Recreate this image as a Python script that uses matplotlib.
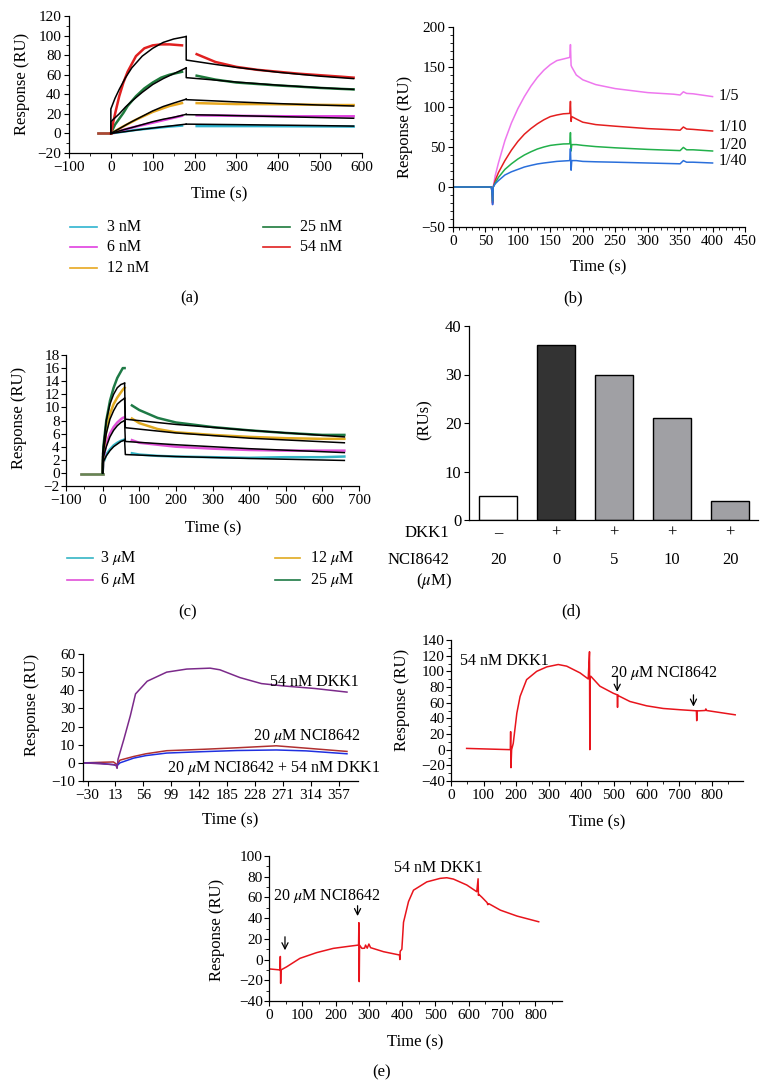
import matplotlib
matplotlib.use('Agg')
import matplotlib.pyplot as plt
from matplotlib.ticker import AutoMinorLocator, MultipleLocator
from matplotlib.lines import Line2D

plt.rcParams['font.family'] = ['Liberation Serif', 'DejaVu Serif']
plt.rcParams['mathtext.fontset'] = 'stix'
plt.rcParams['font.size'] = 11
plt.rcParams['axes.unicode_minus'] = True

TICK_FS = 11
LABEL_FS = 12
TEXT_FS = 11.5

# ---------------- Panel (a) data ----------------
a_labels = ['3 nM', '6 nM', '12 nM', '25 nM', '54 nM']
a_colors = ['#2fb4cf', '#e040e0', '#e8a820', '#1e7a3c', '#e02020']
a_base_t = [-30, 0]
a_base_y = [0, 0]
a_assoc_t = [0, 10, 20, 30, 40, 60, 80, 100, 120, 140, 170]
a_assoc_3 = [0, 0.6, 1.2, 1.8, 2.4, 3.6, 4.5, 5.3, 6.2, 7.0, 8.0]
a_assoc_6 = [0, 1.2, 2.4, 3.6, 4.8, 7.0, 9.0, 11.0, 13.0, 15.0, 18.0]
a_assoc_12 = [0, 2.4, 4.8, 7.2, 9.5, 14.0, 18.0, 22.0, 25.0, 28.0, 31.0]
a_assoc_25 = [0, 9.0, 15.0, 21.0, 28.0, 38.0, 46.0, 52.0, 57.0, 60.0, 63.0]
a_assoc_54 = [0, 20.0, 38.0, 52.0, 63.0, 79.0, 87.0, 90.0, 91.0, 91.0, 90.0]
a_diss_t = [205, 250, 300, 350, 400, 450, 500, 550, 580]
a_diss_3 = [7.5, 7.5, 7.5, 7.5, 7.4, 7.3, 7.2, 7.1, 7.0]
a_diss_6 = [18.5, 18.3, 18.0, 17.8, 17.6, 17.5, 17.5, 17.5, 17.5]
a_diss_12 = [31.0, 30.5, 30.0, 30.0, 29.8, 29.5, 29.2, 29.0, 29.0]
a_diss_25 = [59.0, 55.0, 52.0, 50.5, 49.0, 47.8, 46.5, 45.5, 45.0]
a_diss_54 = [81.0, 73.0, 68.0, 65.0, 63.0, 61.0, 59.5, 58.0, 57.0]
a_fit_assoc_t = [0, 0, 10, 20, 35, 50, 75, 100, 125, 150, 180]
a_fit_assoc_3 = [0, 0, 0.5, 1.1, 1.9, 2.8, 4.2, 5.5, 6.8, 8.0, 9.5]
a_fit_assoc_6 = [0, 0, 1.2, 2.5, 4.3, 6.0, 9.0, 12.0, 14.5, 16.5, 19.5]
a_fit_assoc_12 = [0, 0, 2.4, 4.8, 8.5, 12.0, 17.5, 23.0, 27.5, 31.0, 35.0]
a_fit_assoc_25 = [0, 12, 16, 20, 27, 33, 42, 50, 56, 61, 67]
a_fit_assoc_54 = [0, 25, 36, 45, 57, 67, 79, 87, 93, 96.5, 99]
a_fit_diss_t = [180, 180, 250, 300, 400, 500, 580]
a_fit_diss_3 = [9.5, 9.5, 9.2, 9.0, 8.5, 8.0, 7.5]
a_fit_diss_6 = [19.5, 19.2, 18.7, 18.2, 17.2, 16.2, 15.5]
a_fit_diss_12 = [35.0, 34.5, 33.2, 32.2, 30.5, 29.0, 28.0]
a_fit_diss_25 = [67.0, 57.0, 54.5, 52.5, 49.3, 46.7, 45.0]
a_fit_diss_54 = [99.0, 75.0, 70.5, 67.5, 62.5, 58.5, 56.0]

# ---------------- Panel (b) data ----------------
b_labels = ['1/5', '1/10', '1/20', '1/40']
b_colors = ['#ee77ee', '#e41f1f', '#22b04b', '#2a6fdb']
b_t = [0, 59, 60, 61, 62, 65, 70, 80, 90, 100, 110, 120, 130, 140, 150, 160, 170, 180,
       181, 182, 183, 190, 200, 220, 250, 300, 340, 350, 355, 360, 370, 400]
b_1_5 = [0, 0, -5, -22, 0, 14, 30, 58, 80, 98, 113, 126, 137, 146, 153, 158, 160, 162,
         178, 152, 150, 140, 134, 128, 123, 118, 116, 115, 119, 117, 116.5, 113]
b_1_10 = [0, 0, -5, -20, 0, 8, 18, 33, 46, 57, 66, 73, 79, 84, 88, 90, 91.5, 92,
          107, 82, 88, 85, 81, 78, 76, 73, 71.5, 71, 75, 72.5, 72, 70]
b_1_20 = [0, 0, -5, -18, 0, 5, 12, 22, 29, 35, 40, 44, 47.5, 50, 52, 53, 53.8, 54,
          68, 45, 53, 53, 52, 50.5, 49, 47, 45.8, 45.5, 49.5, 46.5, 46.5, 45]
b_1_40 = [0, 0, -5, -22, 0, 4, 8, 15, 19, 22, 25, 27, 28.8, 30, 31, 32, 32.5, 33,
          48, 21, 33, 33, 32, 31.5, 31, 30, 29.2, 29, 33, 31, 31, 30]

# ---------------- Panel (c) data ----------------
c_labels = ['3 $\\mu$M', '6 $\\mu$M', '12 $\\mu$M', '25 $\\mu$M']
c_colors = ['#35b5c5', '#e050d8', '#e0aa20', '#1e7a46']
c_base_t = [-60, 0]
c_base_y = [-0.1, -0.1]
c_assoc_t = [0, 2, 10, 20, 30, 40, 50, 55, 60]
c_assoc_3 = [0, 1.5, 2.8, 3.6, 4.2, 4.6, 4.9, 5.0, 5.1]
c_assoc_6 = [0, 2.0, 4.5, 6.0, 7.0, 7.7, 8.2, 8.4, 8.5]
c_assoc_12 = [0, 3.0, 6.5, 9.0, 10.5, 11.5, 12.3, 12.7, 13.0]
c_assoc_25 = [0, 4.0, 8.0, 11.0, 13.0, 14.5, 15.5, 16.0, 16.0]
c_diss_t = [80, 100, 150, 200, 300, 400, 500, 600, 660]
c_diss_3 = [3.0, 2.8, 2.6, 2.5, 2.4, 2.3, 2.4, 2.4, 2.5]
c_diss_6 = [5.0, 4.6, 4.3, 4.0, 3.7, 3.5, 3.4, 3.4, 3.4]
c_diss_12 = [8.3, 7.6, 6.7, 6.2, 5.8, 5.5, 5.3, 5.2, 5.2]
c_diss_25 = [10.3, 9.6, 8.4, 7.7, 7.0, 6.5, 6.1, 5.8, 5.8]
c_fit_assoc_t = [0, 0, 10, 20, 30, 40, 50, 60]
c_fit_assoc_3 = [0, 1.5, 2.6, 3.4, 4.0, 4.4, 4.8, 5.0]
c_fit_assoc_6 = [0, 2.0, 4.0, 5.5, 6.5, 7.2, 7.7, 8.0]
c_fit_assoc_12 = [0, 2.5, 6.0, 8.2, 9.5, 10.5, 11.0, 11.4]
c_fit_assoc_25 = [0, 3.0, 8.0, 10.5, 12.0, 13.0, 13.5, 13.7]
c_fit_diss_t = [60, 62, 200, 400, 660]
c_fit_diss_3 = [5.0, 2.8, 2.5, 2.2, 1.9]
c_fit_diss_6 = [8.0, 4.8, 4.3, 3.7, 3.1]
c_fit_diss_12 = [11.4, 6.9, 6.1, 5.3, 4.6]
c_fit_diss_25 = [13.7, 8.2, 7.4, 6.5, 5.5]

# ---------------- Panel (d) data ----------------
d_values = [5, 36, 30, 21, 4]
d_colors = ['#ffffff', '#333333', '#a0a0a4', '#a0a0a4', '#a0a0a4']
d_dkk1 = ['–', '+', '+', '+', '+']
d_nci = ['20', '0', '5', '10', '20']

# ---------------- Panel (e) data ----------------
e1_xticks = [-30, 13, 56, 99, 142, 185, 228, 271, 314, 357]
e1_purple_t = [-36, -10, 10, 14, 15.6, 17, 26, 36, 44, 62, 92, 123, 159, 174, 205, 238, 272, 320, 370]
e1_purple_y = [0, -0.5, -1, -1.5, -3, 2, 13, 26, 38, 45, 50, 51.7, 52.2, 51.3, 47, 43.7, 42.4, 41, 39]
e1_line_t = [-36, -10, 10, 15.6, 20, 41, 60, 92, 150, 200, 261, 307, 370]
e1_red_y = [0, 0.3, 0.5, -1, 1.5, 3.5, 5, 6.7, 7.5, 8.3, 9.4, 8.1, 6.3]
e1_blue_y = [0, -0.3, -1, -1.5, 0, 2.6, 4, 5.4, 6.2, 6.8, 7.1, 6.6, 5]

e2_t = [48, 182, 183, 184, 186, 191, 202, 212, 232, 263, 294, 329, 355, 396, 421, 425, 426, 427,
        429, 457, 498, 510, 511, 512, 513, 549, 600, 651, 702, 753, 754, 755, 756, 780, 782, 784, 872]
e2_y = [1.6, 0, 23, -23, 0, 8, 46.6, 68, 89.4, 100, 105.7, 108.7, 106.6, 98, 90.3, 125, 0, 92,
        93.7, 81, 72, 70, 54, 70, 69, 61.5, 56, 52.6, 51, 49.6, 37, 49.6, 49.5, 50, 52, 50, 44.5]

e3_t = [0, 33, 34, 35, 36, 53, 93, 143, 193, 244, 269, 270, 271, 272, 279, 287, 290, 295, 300, 305,
        344, 392, 393, 394, 399, 404, 419, 434, 474, 514, 534, 554, 594, 624, 628, 629, 630, 640,
        655, 657, 660, 695, 745, 810]
e3_y = [-9, -10, 3, -23, -10, -7, 1.2, 6.7, 10.8, 13, 14, 35.6, -21.3, 14, 10.8, 11, 14, 11, 15, 11.5,
        7.6, 4.4, 0, 8, 10, 36, 56, 67, 75, 78.4, 79, 77.7, 72, 65.5, 78, 62, 63, 60,
        55, 53, 54, 47.7, 42, 36.5]

# ---------------- figure helpers ----------------
W, H = 769, 1089
fig = plt.figure(figsize=(W / 100, H / 100), dpi=100)


def pax(l, t, r, b):
    return fig.add_axes([l / W, 1 - b / H, (r - l) / W, (b - t) / H])


def fx(x):
    return x / W


def fy(y):
    return 1 - y / H


def style(ax, xminor=2, yminor=2, fs=TICK_FS):
    for s in ['top', 'right']:
        ax.spines[s].set_visible(False)
    for s in ['left', 'bottom']:
        ax.spines[s].set_linewidth(0.9)
    ax.tick_params(which='major', direction='out', length=3.5, width=0.8, labelsize=fs, pad=2)
    ax.tick_params(which='minor', direction='out', length=2, width=0.6)
    if xminor:
        ax.xaxis.set_minor_locator(AutoMinorLocator(xminor))
    if yminor:
        ax.yaxis.set_minor_locator(AutoMinorLocator(yminor))


def ftext(x, y, s, **kw):
    kw.setdefault('fontsize', LABEL_FS)
    kw.setdefault('ha', 'center')
    kw.setdefault('va', 'center')
    fig.text(fx(x), fy(y), s, **kw)


def legend_item(x0, x1, y, color, label, tx):
    fig.add_artist(Line2D([fx(x0), fx(x1)], [fy(y), fy(y)], color=color, lw=1.2))
    ftext(tx, y, label, ha='left', fontsize=TEXT_FS)


# ---------------- Panel (a) ----------------
ax = pax(69, 16, 362, 153)
a_assoc = [a_assoc_3, a_assoc_6, a_assoc_12, a_assoc_25, a_assoc_54]
a_diss = [a_diss_3, a_diss_6, a_diss_12, a_diss_25, a_diss_54]
a_fa = [a_fit_assoc_3, a_fit_assoc_6, a_fit_assoc_12, a_fit_assoc_25, a_fit_assoc_54]
a_fd = [a_fit_diss_3, a_fit_diss_6, a_fit_diss_12, a_fit_diss_25, a_fit_diss_54]
for c, ya, yd in zip(a_colors, a_assoc, a_diss):
    ax.plot(a_base_t, a_base_y, color=c, lw=1.8, alpha=0.6)
    ax.plot(a_assoc_t, ya, color=c, lw=1.8)
    ax.plot(a_diss_t, yd, color=c, lw=1.8)
for ya, yd in zip(a_fa, a_fd):
    ax.plot(a_fit_assoc_t, ya, color='black', lw=1.1)
    ax.plot(a_fit_diss_t, yd, color='black', lw=1.1)
ax.set_xlim(-100, 600)
ax.set_ylim(-20, 120)
ax.xaxis.set_major_locator(MultipleLocator(100))
ax.yaxis.set_major_locator(MultipleLocator(20))
style(ax)
ftext(22, 84, 'Response (RU)', rotation=90)
ftext(219, 194, 'Time (s)')
legend_item(70, 97, 227, a_colors[0], a_labels[0], 107)
legend_item(70, 97, 247, a_colors[1], a_labels[1], 107)
legend_item(70, 97, 268, a_colors[2], a_labels[2], 107)
legend_item(263, 290, 227, a_colors[3], a_labels[3], 300)
legend_item(263, 290, 247, a_colors[4], a_labels[4], 300)
ftext(190, 298, '(a)')

# ---------------- Panel (b) ----------------
ax = pax(453, 27, 745, 227)
b_series = [b_1_5, b_1_10, b_1_20, b_1_40]
b_label_y = [113.75, 75, 52.5, 32.5]
for c, ys, lab, ly in zip(b_colors, b_series, b_labels, b_label_y):
    ax.plot(b_t, ys, color=c, lw=1.1)
    ax.text(410, ly, lab, ha='left', va='center', fontsize=TEXT_FS, clip_on=False)
ax.set_xlim(0, 450)
ax.set_ylim(-50, 200)
ax.xaxis.set_major_locator(MultipleLocator(50))
ax.yaxis.set_major_locator(MultipleLocator(50))
style(ax, 5, 5)
ftext(405, 127, 'Response (RU)', rotation=90)
ftext(598, 267, 'Time (s)')
ftext(573, 298, '(b)')

# ---------------- Panel (c) ----------------
ax = pax(66, 355, 359, 486)
c_assoc = [c_assoc_3, c_assoc_6, c_assoc_12, c_assoc_25]
c_diss = [c_diss_3, c_diss_6, c_diss_12, c_diss_25]
c_fa = [c_fit_assoc_3, c_fit_assoc_6, c_fit_assoc_12, c_fit_assoc_25]
c_fd = [c_fit_diss_3, c_fit_diss_6, c_fit_diss_12, c_fit_diss_25]
for c, ya, yd in zip(c_colors, c_assoc, c_diss):
    ax.plot(c_base_t, c_base_y, color=c, lw=1.8, alpha=0.6)
    ax.plot(c_assoc_t, ya, color=c, lw=1.8)
    ax.plot(c_diss_t, yd, color=c, lw=1.8)
for ya, yd in zip(c_fa, c_fd):
    ax.plot(c_fit_assoc_t, ya, color='black', lw=1.1)
    ax.plot(c_fit_diss_t, yd, color='black', lw=1.1)
ax.set_xlim(-100, 700)
ax.set_ylim(-2, 18)
ax.xaxis.set_major_locator(MultipleLocator(100))
ax.yaxis.set_major_locator(MultipleLocator(2))
style(ax, 2, None)
ax.tick_params(axis='y', pad=1)
ftext(19, 418, 'Response (RU)', rotation=90)
ftext(213, 528, 'Time (s)')
legend_item(67, 93, 558, c_colors[0], c_labels[0], 100)
legend_item(67, 93, 580, c_colors[1], c_labels[1], 100)
legend_item(275, 300, 558, c_colors[2], c_labels[2], 310)
legend_item(275, 300, 580, c_colors[3], c_labels[3], 310)
ftext(188, 612, '(c)')

# ---------------- Panel (d) ----------------
D_FS = 12
ax = pax(469, 326, 758, 520)
xpos = list(range(len(d_values)))
ax.bar(xpos, d_values, width=0.66, color=d_colors, edgecolor='black', linewidth=1.0)
ax.set_xlim(-0.5, 4.48)
ax.set_ylim(0, 40)
ax.set_xticks([])
ax.yaxis.set_major_locator(MultipleLocator(10))
style(ax, None, None, fs=D_FS)
for i, (s1, s2) in enumerate(zip(d_dkk1, d_nci)):
    ax.text(i, -2.7, s1, ha='center', va='center', fontsize=D_FS, clip_on=False)
    ax.text(i, -8.3, s2, ha='center', va='center', fontsize=D_FS, clip_on=False)
ftext(449, 533, 'DKK1', ha='right', fontsize=D_FS)
ftext(449, 560, 'NCI8642', ha='right', fontsize=D_FS)
ftext(452, 581, '($\\mu$M)', ha='right', fontsize=D_FS)
ftext(425, 420, '(RUs)', rotation=90, fontsize=D_FS)
ftext(571, 611, '(d)')

# ---------------- Panel (e) top-left ----------------
ax = pax(83, 654, 358, 781)
ax.plot(e1_line_t, e1_red_y, color='#b03030', lw=1.1)
ax.plot(e1_line_t, e1_blue_y, color='#2030e0', lw=1.1)
ax.plot(e1_purple_t, e1_purple_y, color='#7b2a8a', lw=1.1)
ax.set_xlim(-37, 387)
ax.set_ylim(-10, 60)
ax.set_xticks(e1_xticks)
ax.yaxis.set_major_locator(MultipleLocator(10))
style(ax, None, None)
ax.text(251, 44.3, '54 nM DKK1', ha='left', va='center', fontsize=TEXT_FS)
ax.text(225, 14.6, '20 $\\mu$M NCI8642', ha='left', va='center', fontsize=TEXT_FS)
ax.text(92, -3, '20 $\\mu$M NCI8642 + 54 nM DKK1', ha='left', va='center', fontsize=TEXT_FS,
        clip_on=False)
ftext(32, 705, 'Response (RU)', rotation=90)
ftext(230, 820, 'Time (s)')

# ---------------- Panel (e) top-right ----------------
ax = pax(451, 640, 743, 781)
ax.plot(e2_t, e2_y, color='#e8141c', lw=1.1)
ax.set_xlim(0, 896)
ax.set_ylim(-40, 140)
ax.set_xticks(range(0, 801, 100))
ax.yaxis.set_major_locator(MultipleLocator(20))
style(ax, 2, 2)
ax.tick_params(axis='y', pad=1)
ax.text(27, 113, '54 nM DKK1', ha='left', va='center', fontsize=TEXT_FS)
ax.text(488, 98, '20 $\\mu$M NCI8642', ha='left', va='center', fontsize=TEXT_FS)
for xa, ytop, ybot in [(510, 94, 74), (744, 70, 55)]:
    ax.annotate('', xy=(xa, ybot), xytext=(xa, ytop),
                arrowprops=dict(arrowstyle='->', color='black', lw=0.9, shrinkA=0, shrinkB=0))
ftext(402, 700, 'Response (RU)', rotation=90)
ftext(597, 822, 'Time (s)')

# ---------------- Panel (e) bottom ----------------
ax = pax(269, 856, 562, 1001)
ax.plot(e3_t, e3_y, color='#e8141c', lw=1.1)
ax.set_xlim(0, 880)
ax.set_ylim(-40, 100)
ax.set_xticks(range(0, 801, 100))
ax.yaxis.set_major_locator(MultipleLocator(20))
style(ax, 2, 2)
ax.tick_params(axis='y', pad=1)
ax.text(374, 88, '54 nM DKK1', ha='left', va='center', fontsize=TEXT_FS)
ax.text(13, 61.6, '20 $\\mu$M NCI8642', ha='left', va='center', fontsize=TEXT_FS)
for xa, ytop, ybot in [(48, 22, 9), (266, 52, 42)]:
    ax.annotate('', xy=(xa, ybot), xytext=(xa, ytop),
                arrowprops=dict(arrowstyle='->', color='black', lw=0.9, shrinkA=0, shrinkB=0))
ftext(217, 930, 'Response (RU)', rotation=90)
ftext(415, 1042, 'Time (s)')
ftext(382, 1072, '(e)')

fig.savefig('out.png', dpi=100, facecolor='white')
